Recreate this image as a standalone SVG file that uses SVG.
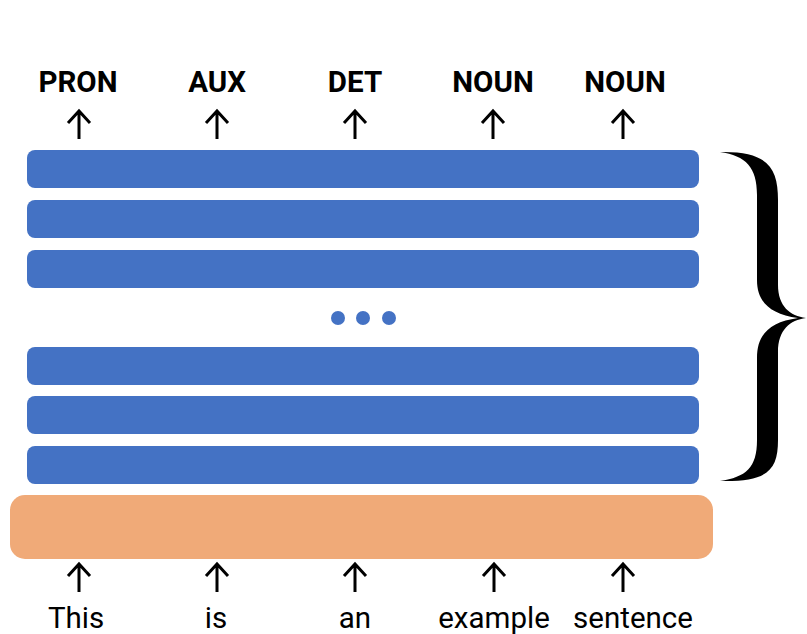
<svg xmlns="http://www.w3.org/2000/svg" width="807" height="634" viewBox="0 0 807 634">
<style>
.layer{fill:#4472C4}
.emb{fill:#F0AA78}
.tag{font-family:Roboto,"Liberation Sans",sans-serif;font-weight:bold;font-size:29.5px;fill:#000;text-anchor:middle}
.word{font-family:Roboto,"Liberation Sans",sans-serif;font-size:29.5px;fill:#000;text-anchor:middle}
.arr{fill:none;stroke:#000;stroke-width:3}
</style>
<rect width="807" height="634" fill="#fff"/>
<g id="layers">
<rect id="layer1" class="layer" x="27" y="150" width="672" height="38" rx="8"/>
<rect id="layer2" class="layer" x="27" y="200" width="672" height="38" rx="8"/>
<rect id="layer3" class="layer" x="27" y="250" width="672" height="38" rx="8"/>
<rect id="layer4" class="layer" x="27" y="347" width="672" height="38" rx="8"/>
<rect id="layer5" class="layer" x="27" y="396" width="672" height="38" rx="8"/>
<rect id="layer6" class="layer" x="27" y="446" width="672" height="38" rx="8"/>
</g>
<g id="dots" class="layer">
<circle cx="338" cy="318" r="7"/>
<circle cx="363" cy="318" r="7"/>
<circle cx="389" cy="318" r="7"/>
</g>
<g id="embedding"><rect class="emb" x="10" y="495" width="703" height="64" rx="15"/></g>
<g id="brace"><path fill="#000" d="M720,152 C768,151 778,168 778,200 L778,285 C778,306 790,316 806,318 C790,320 778,330 778,352 L778,440 C778,470 768,482 720,481 C746,477 757,468 757,440 L757,358 C757,334 770,322 798,318 C770,314 757,302 757,280 L757,195 C757,167 746,156 720,152 Z"/></g>
<g id="tags">
<text class="tag" x="78" y="92">PRON</text>
<text class="tag" x="217" y="92">AUX</text>
<text class="tag" x="355" y="92">DET</text>
<text class="tag" x="493" y="92">NOUN</text>
<text class="tag" x="625" y="92">NOUN</text>
</g>
<g id="words">
<text class="word" x="76" y="628">This</text>
<text class="word" x="216" y="628">is</text>
<text class="word" x="355" y="628">an</text>
<text class="word" x="494" y="628">example</text>
<text class="word" x="633" y="628">sentence</text>
</g>
<g id="connectors" class="arr">
<path d="M79,139V111M68,123L79,111L90,123"/>
<path d="M217,139V111M206,123L217,111L228,123"/>
<path d="M355,139V111M344,123L355,111L366,123"/>
<path d="M493,139V111M482,123L493,111L504,123"/>
<path d="M623,139V111M612,123L623,111L634,123"/>
<path d="M79,592V564M68,576L79,564L90,576"/>
<path d="M217,592V564M206,576L217,564L228,576"/>
<path d="M355,592V564M344,576L355,564L366,576"/>
<path d="M494,592V564M483,576L494,564L505,576"/>
<path d="M623,592V564M612,576L623,564L634,576"/>
</g>
</svg>
